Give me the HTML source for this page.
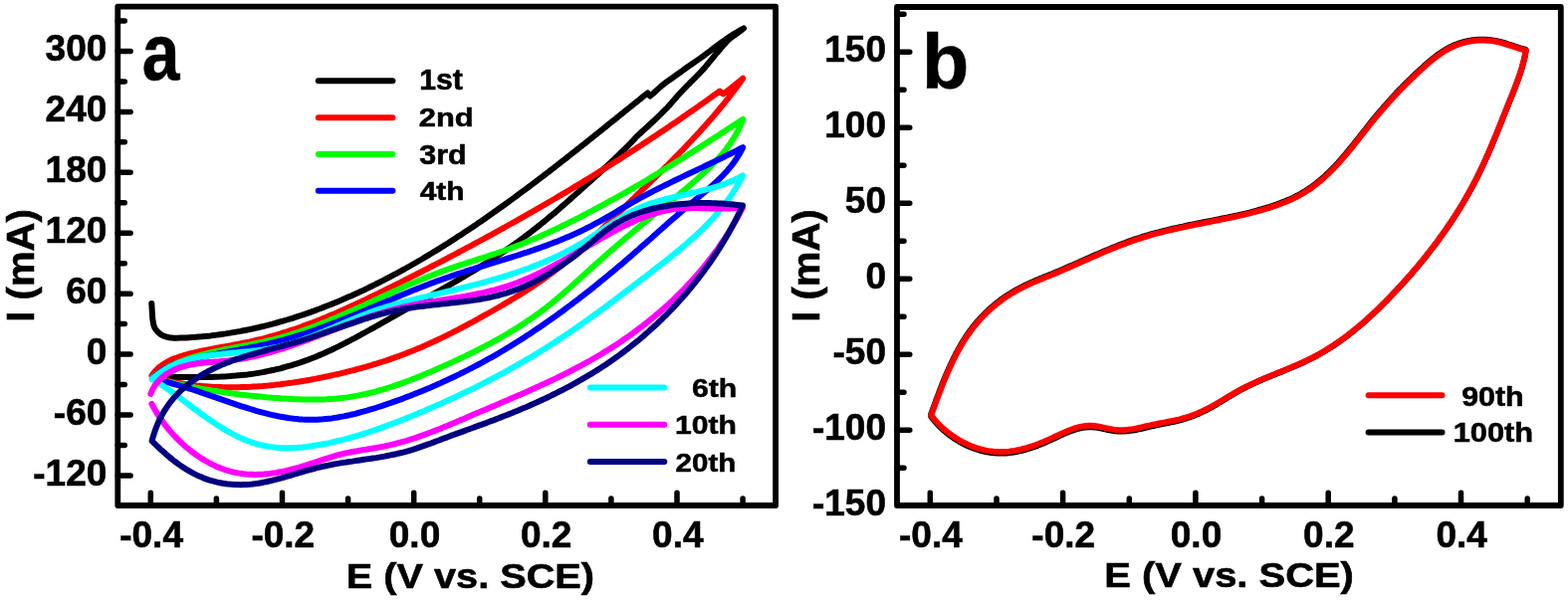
<!DOCTYPE html><html><head><meta charset="utf-8"><title>CV curves</title>
<style>html,body{margin:0;padding:0;background:#fff;}svg{display:block;}</style></head><body>
<svg width="1575" height="603" viewBox="0 0 1575 603">
<rect width="1575" height="603" fill="#fff"/>
<g fill="none" stroke-width="6.0" stroke-linecap="round" stroke-linejoin="round">
<path d="M152.3 305.0L152.3 305.6L152.4 306.5L152.5 307.5L152.5 308.7L152.6 310.0L152.7 311.4L152.8 313.1L152.9 314.8L153.0 316.5L153.1 318.0L153.2 319.4L153.3 320.6L153.5 321.8L153.6 322.9L153.8 324.0L154.0 325.0L154.2 326.0L154.4 326.9L154.7 327.7L155.0 328.5L155.3 329.2L155.7 329.9L156.1 330.6L156.6 331.2L157.0 331.8L157.5 332.4L157.9 332.9L158.4 333.5L159.0 334.0L159.5 334.5L160.1 335.0L160.6 335.4L161.2 335.9L161.9 336.3L162.5 336.7L163.2 337.1L163.8 337.4L164.5 337.7L165.3 337.9L166.0 338.2L166.8 338.4L167.5 338.7L168.3 338.9L169.1 339.0L170.0 339.2L171.0 339.4L172.2 339.5L173.3 339.6L174.3 339.7L175.0 339.8L178.1 339.7L181.2 339.6L184.2 339.5L187.3 339.4L190.4 339.2L193.4 339.0L196.5 338.8L199.5 338.5L202.5 338.3L205.6 338.0L208.6 337.7L211.6 337.4L214.6 337.0L217.6 336.6L220.6 336.2L223.6 335.8L226.6 335.4L229.6 334.9L232.6 334.4L235.5 333.9L238.5 333.4L241.5 332.9L244.4 332.3L247.4 331.7L250.3 331.1L253.3 330.5L256.2 329.8L259.1 329.2L262.0 328.5L264.9 327.8L267.8 327.1L270.8 326.3L273.6 325.6L276.5 324.8L279.4 324.0L282.3 323.2L285.2 322.4L288.0 321.5L290.9 320.6L293.8 319.8L296.6 318.9L299.5 317.9L302.3 317.0L305.1 316.1L308.0 315.1L310.8 314.1L313.6 313.1L316.4 312.1L319.2 311.0L322.0 310.0L324.8 308.9L327.6 307.8L330.4 306.7L333.2 305.6L335.9 304.5L338.7 303.4L341.5 302.2L344.2 301.0L347.0 299.8L349.7 298.6L352.5 297.4L355.2 296.2L357.9 295.0L360.7 293.7L363.4 292.4L366.1 291.2L368.8 289.9L371.5 288.5L374.2 287.2L376.9 285.9L379.6 284.5L382.3 283.2L385.0 281.8L387.6 280.4L390.3 279.0L393.0 277.6L395.6 276.2L398.3 274.8L400.9 273.4L403.6 271.9L406.2 270.5L408.8 269.0L411.5 267.5L414.1 266.0L416.7 264.5L419.3 263.0L421.9 261.5L424.5 260.0L427.1 258.4L429.7 256.9L432.3 255.3L434.9 253.7L437.5 252.2L440.0 250.6L442.6 249.0L445.2 247.4L447.7 245.8L450.3 244.2L452.8 242.5L455.4 240.9L457.9 239.3L460.4 237.6L463.0 235.9L465.5 234.3L468.0 232.6L470.5 230.9L473.1 229.2L475.6 227.6L478.1 225.9L480.6 224.1L483.1 222.4L485.6 220.7L488.1 219.0L490.5 217.3L493.0 215.5L495.5 213.8L498.0 212.0L500.4 210.3L502.9 208.5L505.4 206.7L507.8 205.0L510.3 203.2L512.7 201.4L515.2 199.6L517.6 197.8L520.1 196.0L522.5 194.2L525.0 192.4L527.4 190.6L529.8 188.8L532.3 187.0L534.7 185.1L537.1 183.3L539.5 181.5L541.9 179.6L544.3 177.8L546.7 176.0L549.2 174.1L551.6 172.3L554.0 170.4L556.4 168.6L558.7 166.7L561.1 164.8L563.5 163.0L565.9 161.1L568.3 159.3L570.7 157.4L573.1 155.5L575.4 153.6L577.8 151.8L580.2 149.9L582.6 148.0L584.9 146.1L587.3 144.3L589.7 142.4L592.0 140.5L594.4 138.6L596.7 136.7L599.1 134.8L601.4 133.0L603.8 131.1L606.1 129.2L608.5 127.3L610.8 125.4L613.2 123.5L615.5 121.7L617.9 119.8L620.2 117.9L622.5 116.0L624.9 114.1L627.2 112.2L629.5 110.4L631.9 108.5L634.2 106.6L636.5 104.7L638.9 102.9L641.2 101.0L643.5 99.1L645.9 97.2L648.2 95.4L650.5 93.5L653.0 96.5L656.0 94.0L657.4 92.7L659.3 91.0L661.6 88.9L664.1 86.7L666.6 84.7L669.2 82.7L671.9 80.7L674.8 78.7L677.5 76.8L680.0 75.0L682.1 73.5L683.9 72.2L685.7 70.9L687.6 69.5L690.0 67.8L692.9 65.8L696.2 63.5L699.6 61.1L703.2 58.6L706.6 56.2L710.0 53.7L713.5 51.1L716.9 48.4L720.2 45.9L723.2 43.7L725.9 41.8L728.3 40.1L730.5 38.5L732.7 37.0L735.0 35.5L737.6 33.9L740.4 32.3L743.1 30.7L745.4 29.4L747.0 28.5L746.1 29.2L745.0 30.1L743.6 31.2L742.0 32.3L740.5 33.5L738.9 34.6L737.3 35.8L735.5 37.0L733.8 38.3L732.0 39.8L730.3 41.5L728.5 43.4L726.7 45.4L724.9 47.5L723.2 49.5L721.5 51.5L719.8 53.5L718.2 55.5L716.6 57.5L714.9 59.5L713.2 61.5L711.6 63.5L709.9 65.5L708.3 67.5L706.6 69.4L704.9 71.2L703.3 73.0L701.6 74.7L700.0 76.4L698.3 78.1L696.7 79.7L695.1 81.3L693.4 82.9L691.8 84.6L690.0 86.4L688.1 88.4L686.1 90.4L684.1 92.6L682.0 94.8L680.0 97.0L678.1 99.2L676.2 101.4L674.3 103.6L672.2 106.0L669.9 108.5L667.2 111.2L664.3 114.1L661.2 117.1L658.1 120.1L655.0 123.0L651.8 126.0L648.3 129.2L644.9 132.3L642.0 134.9L640.0 136.8L637.9 139.0L635.9 141.2L633.8 143.4L631.7 145.5L629.6 147.7L627.4 149.8L625.3 151.9L623.1 154.0L621.0 156.1L618.8 158.2L616.6 160.3L614.4 162.4L612.2 164.4L610.0 166.5L607.8 168.5L605.6 170.6L603.4 172.6L601.1 174.7L598.9 176.7L596.7 178.7L594.4 180.8L592.2 182.8L589.9 184.8L587.7 186.8L585.4 188.9L583.2 190.9L580.9 192.9L578.7 194.9L576.4 196.9L574.1 199.0L571.9 201.0L569.6 203.0L567.3 205.0L565.0 207.0L562.8 208.9L560.5 210.9L558.2 212.9L555.9 214.9L553.5 216.8L551.2 218.8L548.9 220.7L546.6 222.6L544.2 224.5L541.9 226.4L539.5 228.3L537.1 230.2L534.7 232.0L532.4 233.9L530.0 235.7L527.5 237.5L525.1 239.3L522.7 241.1L520.3 242.9L517.8 244.6L515.3 246.4L512.9 248.1L510.4 249.8L507.9 251.5L505.4 253.2L502.9 254.9L500.4 256.5L497.9 258.2L495.4 259.8L492.8 261.5L490.3 263.1L487.7 264.7L485.2 266.3L482.6 267.9L480.1 269.5L477.5 271.1L474.9 272.6L472.3 274.2L469.7 275.7L467.1 277.3L464.5 278.8L461.9 280.4L459.3 281.9L456.7 283.4L454.1 284.9L451.5 286.4L448.9 287.9L446.2 289.4L443.6 290.9L441.0 292.4L438.3 293.9L435.7 295.4L433.1 296.9L430.4 298.4L427.8 299.9L425.1 301.3L422.5 302.8L419.8 304.3L417.2 305.8L414.5 307.3L411.9 308.7L409.2 310.2L406.6 311.7L404.0 313.2L401.3 314.7L398.7 316.2L396.0 317.7L393.4 319.2L390.7 320.6L388.1 322.1L385.4 323.6L382.8 325.1L380.2 326.6L377.5 328.1L374.9 329.6L372.2 331.0L369.6 332.5L366.9 334.0L364.3 335.4L361.6 336.9L358.9 338.3L356.3 339.8L353.6 341.2L350.9 342.6L348.2 344.0L345.6 345.4L342.9 346.7L340.2 348.1L337.5 349.4L334.8 350.7L332.1 352.0L329.3 353.3L326.6 354.5L323.8 355.8L321.1 356.9L318.3 358.1L315.5 359.2L312.7 360.3L309.9 361.4L307.1 362.4L304.3 363.4L301.5 364.4L298.6 365.3L295.8 366.2L292.9 367.1L290.0 367.9L287.2 368.7L284.3 369.5L281.4 370.3L278.4 371.0L275.5 371.7L272.6 372.3L269.7 372.9L266.7 373.5L263.7 374.1L260.8 374.6L257.8 375.1L254.8 375.6L251.8 376.0L248.8 376.4L245.8 376.7L242.8 377.0L239.8 377.3L236.8 377.6L233.7 377.8L230.7 378.1L227.6 378.3L224.6 378.4L221.6 378.6L218.5 378.7L215.4 378.8L212.4 378.9L209.3 378.9L206.3 379.0L203.2 379.0L200.2 379.1L197.1 379.1L194.1 379.1L191.0 379.1L188.0 379.1L184.9 379.1L181.9 379.1L178.9 379.0L175.9 379.0L172.9 379.0L169.8 379.0L166.8 378.9L163.9 378.9L160.9 378.9L157.9 378.9" stroke="#000000"/>
<path d="M152.5 377.5L154.3 375.0L156.3 372.6L158.4 370.5L160.6 368.6L163.0 366.8L165.4 365.2L167.9 363.7L170.6 362.3L173.3 361.1L176.0 360.0L178.8 359.0L181.7 358.0L184.6 357.1L187.5 356.3L190.4 355.5L193.4 354.8L196.3 354.1L199.3 353.4L202.3 352.8L205.3 352.2L208.3 351.6L211.3 351.0L214.3 350.4L217.3 349.8L220.3 349.3L223.3 348.7L226.3 348.2L229.3 347.6L232.3 347.1L235.3 346.5L238.3 346.0L241.3 345.4L244.3 344.8L247.3 344.2L250.2 343.6L253.2 342.9L256.2 342.2L259.1 341.5L262.1 340.8L265.0 340.1L267.9 339.3L270.8 338.5L273.7 337.7L276.6 336.9L279.5 336.0L282.4 335.1L285.3 334.2L288.2 333.3L291.0 332.4L293.9 331.4L296.8 330.5L299.6 329.5L302.5 328.5L305.3 327.4L308.1 326.4L310.9 325.3L313.8 324.3L316.6 323.2L319.4 322.1L322.2 321.0L325.0 319.8L327.8 318.7L330.5 317.5L333.3 316.3L336.1 315.2L338.9 314.0L341.6 312.8L344.4 311.5L347.2 310.3L349.9 309.1L352.7 307.8L355.4 306.6L358.2 305.3L360.9 304.0L363.6 302.7L366.4 301.4L369.1 300.1L371.8 298.8L374.6 297.5L377.3 296.2L380.0 294.9L382.7 293.5L385.4 292.2L388.2 290.8L390.9 289.5L393.6 288.1L396.3 286.8L399.0 285.4L401.7 284.1L404.4 282.7L407.1 281.3L409.8 280.0L412.5 278.6L415.2 277.2L417.9 275.8L420.6 274.5L423.3 273.1L426.0 271.7L428.7 270.3L431.4 268.9L434.0 267.5L436.7 266.1L439.4 264.8L442.1 263.4L444.8 262.0L447.5 260.6L450.1 259.1L452.8 257.7L455.5 256.3L458.2 254.9L460.8 253.5L463.5 252.1L466.2 250.6L468.8 249.2L471.5 247.8L474.2 246.4L476.8 244.9L479.5 243.5L482.2 242.0L484.8 240.6L487.5 239.2L490.1 237.7L492.8 236.3L495.4 234.8L498.1 233.3L500.7 231.9L503.4 230.4L506.0 229.0L508.6 227.5L511.3 226.0L513.9 224.5L516.6 223.1L519.2 221.6L521.8 220.1L524.5 218.6L527.1 217.1L529.7 215.6L532.3 214.1L535.0 212.6L537.6 211.1L540.2 209.6L542.8 208.1L545.4 206.6L548.0 205.1L550.7 203.5L553.3 202.0L555.9 200.5L558.5 199.0L561.1 197.4L563.7 195.9L566.3 194.3L568.9 192.8L571.5 191.3L574.1 189.7L576.7 188.1L579.2 186.6L581.8 185.0L584.4 183.5L587.0 181.9L589.6 180.3L592.2 178.7L594.7 177.2L597.3 175.6L599.9 174.0L602.4 172.4L605.0 170.8L607.6 169.2L610.1 167.6L612.7 166.0L615.3 164.4L617.8 162.8L620.4 161.2L622.9 159.6L625.5 157.9L628.0 156.3L630.6 154.7L633.1 153.0L635.6 151.4L638.2 149.8L640.7 148.1L643.3 146.5L645.8 144.8L648.3 143.1L650.8 141.5L653.4 139.8L655.9 138.1L658.4 136.5L660.9 134.8L663.4 133.1L665.9 131.4L668.5 129.7L671.0 128.0L673.5 126.3L676.0 124.6L678.5 122.9L681.0 121.2L683.5 119.5L685.9 117.8L688.4 116.1L690.9 114.3L693.4 112.6L695.9 110.9L698.4 109.1L700.8 107.4L703.3 105.6L705.8 103.9L708.3 102.1L710.7 100.4L713.2 98.6L715.6 96.8L718.1 95.1L720.5 93.3L723.0 91.5L726.5 94.5L736.0 87.0L746.2 78.8L744.4 81.3L742.7 83.7L740.9 86.2L739.1 88.6L737.3 91.1L735.5 93.5L733.6 95.9L731.8 98.3L729.9 100.6L728.0 103.0L726.1 105.3L724.2 107.7L722.3 110.0L720.4 112.3L718.4 114.6L716.5 116.9L714.5 119.2L712.5 121.5L710.5 123.7L708.5 126.0L706.5 128.2L704.5 130.5L702.5 132.7L700.4 134.9L698.4 137.1L696.3 139.3L694.3 141.5L692.2 143.7L690.1 145.9L688.1 148.1L686.0 150.3L683.9 152.4L681.8 154.6L679.7 156.7L677.5 158.9L675.4 161.0L673.3 163.2L671.2 165.3L669.0 167.4L666.9 169.5L664.7 171.7L662.6 173.8L660.5 175.9L658.3 178.0L656.1 180.1L654.0 182.2L651.8 184.3L649.7 186.4L647.5 188.6L645.3 190.7L643.2 192.8L641.0 194.9L638.8 197.0L636.7 199.1L634.5 201.2L632.3 203.3L630.2 205.4L628.0 207.5L625.9 209.6L623.7 211.7L621.5 213.8L619.4 215.9L617.2 218.1L615.1 220.2L612.9 222.3L610.8 224.4L608.6 226.5L606.4 228.6L604.3 230.7L602.1 232.8L599.9 234.9L597.7 237.0L595.5 239.0L593.3 241.1L591.1 243.1L588.9 245.2L586.7 247.2L584.5 249.2L582.3 251.2L580.0 253.2L577.8 255.2L575.5 257.2L573.2 259.1L570.9 261.1L568.6 263.0L566.3 264.9L564.0 266.8L561.6 268.7L559.3 270.5L556.9 272.3L554.5 274.1L552.1 275.9L549.7 277.7L547.2 279.5L544.8 281.2L542.3 282.9L539.9 284.6L537.4 286.3L534.9 288.0L532.4 289.6L529.8 291.2L527.3 292.9L524.8 294.5L522.2 296.1L519.7 297.7L517.1 299.2L514.5 300.8L511.9 302.4L509.3 303.9L506.7 305.4L504.1 307.0L501.5 308.5L498.9 310.0L496.3 311.5L493.7 313.0L491.0 314.5L488.4 316.0L485.8 317.4L483.1 318.9L480.5 320.4L477.8 321.8L475.2 323.3L472.5 324.7L469.8 326.2L467.2 327.6L464.5 329.0L461.8 330.4L459.2 331.8L456.5 333.2L453.8 334.6L451.1 335.9L448.4 337.3L445.7 338.6L443.0 339.9L440.2 341.2L437.5 342.5L434.8 343.8L432.0 345.0L429.3 346.3L426.5 347.5L423.8 348.7L421.0 349.9L418.2 351.0L415.5 352.2L412.7 353.3L409.9 354.4L407.1 355.5L404.3 356.5L401.5 357.6L398.6 358.6L395.8 359.6L393.0 360.6L390.1 361.6L387.3 362.6L384.4 363.5L381.6 364.4L378.7 365.3L375.8 366.2L373.0 367.1L370.1 367.9L367.2 368.8L364.3 369.6L361.4 370.4L358.5 371.2L355.6 372.0L352.7 372.7L349.8 373.4L346.8 374.2L343.9 374.9L341.0 375.6L338.1 376.2L335.1 376.9L332.2 377.5L329.2 378.2L326.3 378.8L323.3 379.4L320.4 380.0L317.4 380.6L314.4 381.1L311.5 381.7L308.5 382.2L305.5 382.7L302.5 383.2L299.6 383.7L296.6 384.1L293.6 384.6L290.6 385.0L287.6 385.4L284.6 385.8L281.6 386.2L278.6 386.5L275.6 386.9L272.6 387.2L269.6 387.5L266.6 387.7L263.6 388.0L260.6 388.2L257.6 388.4L254.6 388.6L251.6 388.8L248.6 388.9L245.6 389.0L242.6 389.1L239.6 389.2L236.6 389.2L233.6 389.3L230.6 389.3L227.5 389.2L224.5 389.2L221.5 389.1L218.5 389.0L215.5 388.9L212.5 388.7L209.5 388.5L206.5 388.3L203.6 388.1L200.6 387.8L197.6 387.5L194.6 387.1L191.6 386.8L188.6 386.4L185.6 386.0L182.7 385.5L179.7 385.0L176.7 384.5L173.7 384.0L170.8 383.4L167.8 382.8L164.9 382.1L161.9 381.5L158.9 380.7L156.0 380.0" stroke="#ff0000"/>
<path d="M153.0 379.5L155.3 377.6L157.7 375.8L160.1 374.2L162.6 372.6L165.1 371.1L167.7 369.6L170.3 368.3L172.9 367.0L175.6 365.8L178.3 364.6L181.0 363.5L183.8 362.5L186.6 361.5L189.4 360.5L192.2 359.6L195.0 358.7L197.9 357.9L200.8 357.1L203.7 356.3L206.6 355.6L209.5 354.9L212.4 354.2L215.4 353.5L218.4 352.9L221.3 352.3L224.3 351.6L227.3 351.0L230.3 350.5L233.3 349.9L236.3 349.3L239.3 348.7L242.3 348.1L245.3 347.5L248.3 347.0L251.3 346.4L254.3 345.8L257.3 345.2L260.3 344.5L263.3 343.9L266.3 343.2L269.2 342.5L272.2 341.8L275.2 341.1L278.1 340.3L281.0 339.6L283.9 338.7L286.9 337.9L289.8 337.0L292.6 336.1L295.5 335.2L298.4 334.3L301.3 333.3L304.1 332.3L307.0 331.3L309.8 330.3L312.6 329.3L315.4 328.2L318.3 327.1L321.1 326.0L323.9 324.9L326.7 323.8L329.5 322.7L332.2 321.5L335.0 320.3L337.8 319.2L340.6 318.0L343.3 316.8L346.1 315.6L348.9 314.3L351.6 313.1L354.4 311.9L357.1 310.6L359.9 309.4L362.6 308.1L365.4 306.9L368.1 305.6L370.8 304.4L373.6 303.1L376.3 301.8L379.1 300.6L381.8 299.3L384.6 298.0L387.3 296.8L390.0 295.5L392.8 294.3L395.5 293.0L398.3 291.8L401.0 290.5L403.8 289.3L406.6 288.1L409.3 286.8L412.1 285.6L414.8 284.4L417.6 283.2L420.4 282.1L423.2 280.9L426.0 279.7L428.8 278.6L431.6 277.5L434.4 276.4L437.2 275.3L440.0 274.2L442.8 273.2L445.7 272.1L448.5 271.1L451.3 270.1L454.2 269.1L457.1 268.1L459.9 267.2L462.8 266.2L465.7 265.3L468.5 264.3L471.4 263.4L474.3 262.5L477.2 261.6L480.1 260.6L482.9 259.7L485.8 258.8L488.7 257.8L491.6 256.9L494.4 255.9L497.3 255.0L500.2 254.0L503.0 253.0L505.9 252.0L508.7 251.0L511.6 250.0L514.4 248.9L517.2 247.9L520.0 246.8L522.8 245.7L525.6 244.6L528.4 243.4L531.2 242.3L534.0 241.1L536.8 239.9L539.6 238.7L542.3 237.5L545.1 236.3L547.8 235.0L550.6 233.8L553.3 232.5L556.1 231.2L558.8 230.0L561.5 228.7L564.2 227.3L567.0 226.0L569.7 224.7L572.4 223.3L575.1 222.0L577.8 220.6L580.5 219.3L583.2 217.9L585.8 216.5L588.5 215.1L591.2 213.7L593.9 212.3L596.5 210.9L599.2 209.4L601.9 208.0L604.5 206.6L607.2 205.1L609.8 203.7L612.5 202.2L615.1 200.8L617.8 199.3L620.4 197.8L623.0 196.4L625.7 194.9L628.3 193.4L630.9 191.9L633.5 190.4L636.1 188.9L638.7 187.3L641.4 185.8L644.0 184.3L646.6 182.8L649.2 181.2L651.7 179.7L654.3 178.1L656.9 176.6L659.5 175.0L662.1 173.5L664.7 171.9L667.2 170.3L669.8 168.7L672.4 167.2L675.0 165.6L677.5 164.0L680.1 162.4L682.7 160.8L685.2 159.2L687.8 157.6L690.3 156.0L692.9 154.4L695.4 152.7L698.0 151.1L700.5 149.5L703.1 147.9L705.6 146.2L708.2 144.6L710.7 143.0L713.2 141.3L715.8 139.7L718.3 138.1L720.9 136.4L723.4 134.8L725.9 133.1L728.5 131.5L731.0 129.8L733.5 128.2L736.1 126.5L738.6 124.9L741.1 123.2L743.7 121.6L746.2 119.9L745.1 122.8L743.9 125.7L742.6 128.5L741.2 131.2L739.8 133.9L738.3 136.5L736.8 139.1L735.1 141.6L733.5 144.1L731.8 146.6L730.0 149.0L728.2 151.3L726.3 153.6L724.4 155.9L722.4 158.2L720.4 160.4L718.4 162.5L716.3 164.7L714.2 166.8L712.1 168.9L709.9 171.0L707.8 173.1L705.6 175.1L703.3 177.1L701.1 179.1L698.9 181.1L696.6 183.1L694.3 185.1L692.1 187.0L689.8 189.0L687.5 190.9L685.2 192.8L682.9 194.8L680.6 196.7L678.2 198.6L675.9 200.5L673.6 202.4L671.2 204.3L668.9 206.2L666.5 208.1L664.2 210.0L661.8 211.9L659.5 213.8L657.1 215.6L654.8 217.5L652.5 219.4L650.1 221.3L647.8 223.2L645.4 225.1L643.1 227.0L640.8 228.9L638.5 230.9L636.2 232.8L633.9 234.7L631.6 236.7L629.3 238.6L627.0 240.5L624.7 242.5L622.4 244.5L620.1 246.4L617.9 248.4L615.6 250.4L613.3 252.3L611.1 254.3L608.8 256.3L606.6 258.3L604.3 260.3L602.1 262.3L599.8 264.3L597.6 266.3L595.3 268.3L593.1 270.3L590.8 272.4L588.6 274.4L586.4 276.4L584.1 278.4L581.9 280.5L579.7 282.5L577.4 284.5L575.2 286.5L572.9 288.6L570.7 290.6L568.4 292.6L566.2 294.5L563.9 296.5L561.6 298.5L559.3 300.4L557.0 302.3L554.7 304.3L552.3 306.1L550.0 308.0L547.6 309.9L545.2 311.7L542.8 313.5L540.4 315.3L538.0 317.0L535.5 318.7L533.1 320.5L530.6 322.1L528.1 323.8L525.6 325.5L523.1 327.1L520.6 328.7L518.1 330.3L515.5 331.9L512.9 333.4L510.4 335.0L507.8 336.5L505.2 338.0L502.6 339.5L500.0 341.0L497.3 342.4L494.7 343.9L492.1 345.3L489.4 346.7L486.7 348.1L484.1 349.5L481.4 350.9L478.7 352.3L476.0 353.6L473.3 355.0L470.6 356.3L467.8 357.6L465.1 358.9L462.4 360.2L459.6 361.5L456.9 362.8L454.1 364.1L451.4 365.3L448.6 366.6L445.9 367.8L443.1 369.1L440.3 370.3L437.5 371.5L434.7 372.8L431.9 374.0L429.1 375.1L426.3 376.3L423.5 377.5L420.7 378.6L417.9 379.8L415.1 380.9L412.3 382.0L409.4 383.0L406.6 384.1L403.8 385.1L400.9 386.1L398.1 387.1L395.2 388.1L392.3 389.0L389.5 389.9L386.6 390.8L383.7 391.7L380.8 392.5L377.9 393.3L375.0 394.1L372.1 394.8L369.2 395.5L366.3 396.2L363.4 396.8L360.4 397.4L357.5 397.9L354.6 398.4L351.6 398.9L348.7 399.4L345.7 399.8L342.7 400.1L339.8 400.4L336.8 400.7L333.8 400.9L330.8 401.1L327.8 401.3L324.8 401.4L321.8 401.5L318.8 401.5L315.8 401.6L312.8 401.6L309.8 401.6L306.8 401.5L303.8 401.4L300.7 401.3L297.7 401.2L294.7 401.1L291.7 400.9L288.7 400.8L285.7 400.6L282.7 400.4L279.6 400.1L276.6 399.9L273.6 399.7L270.6 399.4L267.6 399.2L264.6 398.9L261.6 398.6L258.6 398.3L255.6 398.0L252.6 397.7L249.6 397.4L246.6 397.1L243.7 396.7L240.7 396.4L237.7 396.0L234.7 395.6L231.7 395.2L228.8 394.8L225.8 394.4L222.8 393.9L219.8 393.5L216.9 393.0L213.9 392.6L210.9 392.1L208.0 391.6L205.0 391.1L202.1 390.6L199.1 390.0L196.1 389.5L193.2 388.9L190.2 388.4L187.3 387.8L184.4 387.2L181.4 386.6L178.5 386.0L175.5 385.3L172.6 384.7L169.7 384.0L166.7 383.3L163.8 382.6L160.9 381.9L157.9 381.2L155.0 380.5" stroke="#00ff00"/>
<path d="M153.0 380.5L155.1 378.3L157.4 376.4L159.7 374.5L162.1 372.9L164.6 371.3L167.2 369.9L169.8 368.7L172.5 367.5L175.2 366.4L177.9 365.4L180.7 364.5L183.6 363.6L186.4 362.8L189.3 362.0L192.2 361.3L195.1 360.5L198.0 359.8L200.9 359.2L203.9 358.5L206.8 357.9L209.8 357.3L212.7 356.6L215.7 356.1L218.7 355.5L221.6 354.9L224.6 354.3L227.6 353.8L230.6 353.2L233.6 352.7L236.5 352.1L239.5 351.6L242.5 351.0L245.5 350.5L248.5 349.9L251.5 349.3L254.5 348.7L257.4 348.1L260.4 347.5L263.4 346.9L266.3 346.3L269.3 345.6L272.2 344.9L275.2 344.2L278.1 343.5L281.0 342.7L283.9 341.9L286.8 341.1L289.7 340.3L292.6 339.5L295.5 338.6L298.4 337.7L301.3 336.8L304.1 335.9L307.0 335.0L309.8 334.0L312.7 333.1L315.5 332.1L318.3 331.1L321.2 330.1L324.0 329.0L326.8 328.0L329.6 326.9L332.4 325.9L335.2 324.8L338.0 323.7L340.8 322.6L343.6 321.5L346.4 320.4L349.2 319.3L352.0 318.1L354.8 317.0L357.5 315.8L360.3 314.7L363.1 313.5L365.9 312.4L368.6 311.2L371.4 310.0L374.2 308.9L377.0 307.7L379.7 306.5L382.5 305.4L385.3 304.2L388.0 303.0L390.8 301.9L393.6 300.7L396.4 299.5L399.1 298.4L401.9 297.2L404.7 296.0L407.5 294.9L410.3 293.8L413.1 292.6L415.8 291.5L418.6 290.4L421.4 289.3L424.2 288.2L427.0 287.1L429.8 286.0L432.7 284.9L435.5 283.9L438.3 282.8L441.1 281.8L443.9 280.8L446.8 279.8L449.6 278.8L452.5 277.8L455.3 276.8L458.2 275.9L461.0 274.9L463.9 274.0L466.8 273.1L469.6 272.1L472.5 271.2L475.4 270.3L478.3 269.4L481.1 268.5L484.0 267.7L486.9 266.8L489.8 265.9L492.7 265.0L495.5 264.1L498.4 263.2L501.3 262.4L504.2 261.5L507.1 260.6L509.9 259.7L512.8 258.8L515.7 257.9L518.5 257.0L521.4 256.1L524.3 255.1L527.1 254.2L530.0 253.3L532.8 252.3L535.7 251.4L538.5 250.4L541.4 249.4L544.2 248.4L547.0 247.4L549.8 246.4L552.6 245.3L555.4 244.2L558.2 243.2L561.0 242.1L563.8 240.9L566.6 239.8L569.3 238.6L572.1 237.5L574.8 236.2L577.6 235.0L580.3 233.8L583.0 232.5L585.7 231.2L588.4 229.8L591.1 228.5L593.8 227.1L596.4 225.7L599.1 224.2L601.7 222.8L604.4 221.3L607.0 219.8L609.6 218.3L612.3 216.8L614.9 215.3L617.5 213.8L620.1 212.2L622.7 210.7L625.3 209.2L628.0 207.7L630.6 206.1L633.2 204.6L635.8 203.1L638.5 201.7L641.1 200.2L643.7 198.7L646.4 197.3L649.0 195.9L651.7 194.5L654.4 193.1L657.0 191.7L659.7 190.3L662.4 189.0L665.1 187.6L667.8 186.3L670.5 185.0L673.2 183.6L675.9 182.3L678.6 181.0L681.3 179.7L684.0 178.4L686.7 177.1L689.4 175.8L692.1 174.5L694.8 173.2L697.5 172.0L700.2 170.7L702.9 169.4L705.7 168.1L708.4 166.8L711.1 165.5L713.8 164.2L716.5 162.9L719.2 161.6L721.9 160.3L724.6 159.0L727.3 157.7L730.0 156.3L732.7 155.0L735.4 153.6L738.1 152.3L740.8 150.9L743.5 149.5L746.2 148.1L744.8 150.9L743.4 153.6L741.8 156.2L740.2 158.7L738.5 161.2L736.8 163.7L735.0 166.1L733.1 168.4L731.2 170.7L729.2 172.9L727.2 175.1L725.1 177.3L723.0 179.4L720.9 181.4L718.7 183.5L716.5 185.5L714.3 187.5L712.0 189.5L709.7 191.5L707.4 193.4L705.1 195.3L702.8 197.3L700.5 199.2L698.2 201.1L695.8 203.0L693.5 205.0L691.2 206.9L688.9 208.8L686.6 210.8L684.3 212.8L682.1 214.7L679.8 216.7L677.5 218.7L675.3 220.6L673.0 222.6L670.7 224.6L668.5 226.6L666.2 228.6L664.0 230.6L661.7 232.6L659.5 234.6L657.2 236.6L655.0 238.6L652.8 240.6L650.5 242.6L648.3 244.6L646.0 246.6L643.7 248.6L641.5 250.6L639.2 252.6L637.0 254.5L634.7 256.5L632.4 258.5L630.1 260.5L627.8 262.4L625.5 264.4L623.2 266.4L620.9 268.3L618.6 270.2L616.3 272.2L614.0 274.1L611.7 276.1L609.3 278.0L607.0 279.9L604.7 281.8L602.3 283.7L600.0 285.6L597.6 287.5L595.3 289.4L592.9 291.3L590.5 293.2L588.1 295.0L585.8 296.9L583.4 298.7L581.0 300.6L578.6 302.4L576.2 304.2L573.8 306.1L571.3 307.9L568.9 309.7L566.5 311.5L564.1 313.3L561.6 315.0L559.2 316.8L556.7 318.6L554.3 320.3L551.8 322.1L549.3 323.8L546.9 325.5L544.4 327.2L541.9 328.9L539.4 330.6L536.9 332.3L534.4 334.0L531.9 335.7L529.3 337.3L526.8 339.0L524.3 340.6L521.7 342.2L519.2 343.8L516.6 345.4L514.1 347.0L511.5 348.6L508.9 350.1L506.3 351.7L503.8 353.2L501.2 354.8L498.6 356.3L496.0 357.8L493.3 359.3L490.7 360.7L488.1 362.2L485.5 363.6L482.8 365.1L480.2 366.5L477.5 367.9L474.8 369.3L472.2 370.7L469.5 372.1L466.8 373.4L464.1 374.8L461.4 376.1L458.7 377.4L456.0 378.7L453.3 380.0L450.5 381.3L447.8 382.6L445.1 383.8L442.3 385.1L439.6 386.3L436.8 387.5L434.0 388.7L431.3 389.9L428.5 391.1L425.7 392.2L422.9 393.4L420.1 394.5L417.3 395.6L414.5 396.8L411.7 397.9L408.8 398.9L406.0 400.0L403.2 401.1L400.3 402.1L397.5 403.1L394.6 404.1L391.7 405.2L388.9 406.1L386.0 407.1L383.1 408.1L380.2 409.0L377.3 410.0L374.4 410.9L371.5 411.7L368.6 412.6L365.7 413.4L362.7 414.2L359.8 415.0L356.9 415.8L353.9 416.5L351.0 417.2L348.1 417.8L345.1 418.4L342.2 418.9L339.2 419.5L336.3 419.9L333.3 420.4L330.4 420.7L327.5 421.0L324.5 421.3L321.6 421.5L318.6 421.7L315.7 421.8L312.7 421.8L309.8 421.8L306.8 421.7L303.9 421.6L301.0 421.4L298.0 421.1L295.1 420.8L292.2 420.4L289.2 420.0L286.3 419.5L283.4 419.0L280.5 418.5L277.5 417.9L274.6 417.3L271.7 416.6L268.8 415.9L265.9 415.2L262.9 414.4L260.0 413.6L257.1 412.8L254.2 411.9L251.3 411.0L248.4 410.1L245.5 409.2L242.6 408.3L239.7 407.3L236.8 406.4L233.9 405.4L231.0 404.4L228.1 403.4L225.2 402.4L222.3 401.4L219.4 400.4L216.5 399.4L213.6 398.4L210.7 397.4L207.8 396.4L204.9 395.4L202.0 394.4L199.1 393.4L196.2 392.4L193.3 391.5L190.4 390.6L187.6 389.7L184.7 388.8L181.8 387.9L178.9 387.1L176.0 386.3L173.1 385.5L170.3 384.7L167.4 384.0L164.5 383.3L161.6 382.7L158.8 382.1L155.9 381.5L153.0 381.0" stroke="#0000ff"/>
<path d="M152.8 381.0L155.1 379.0L157.5 377.0L159.9 375.2L162.4 373.5L164.9 371.9L167.4 370.4L170.0 369.0L172.7 367.7L175.3 366.5L178.0 365.4L180.7 364.3L183.5 363.3L186.3 362.4L189.1 361.6L192.0 360.8L194.8 360.1L197.7 359.5L200.7 358.9L203.6 358.3L206.6 357.8L209.5 357.4L212.5 357.0L215.5 356.6L218.6 356.2L221.6 355.9L224.7 355.5L227.7 355.2L230.8 354.9L233.8 354.6L236.9 354.4L240.0 354.1L243.0 353.8L246.1 353.5L249.2 353.2L252.2 352.9L255.3 352.5L258.4 352.2L261.4 351.8L264.4 351.4L267.5 350.9L270.5 350.4L273.5 349.8L276.4 349.2L279.4 348.6L282.3 347.9L285.3 347.1L288.2 346.4L291.1 345.5L294.0 344.7L296.9 343.8L299.7 342.8L302.6 341.8L305.4 340.8L308.2 339.8L311.1 338.8L313.9 337.7L316.7 336.6L319.5 335.5L322.3 334.3L325.1 333.2L327.9 332.0L330.6 330.8L333.4 329.7L336.2 328.5L339.0 327.3L341.8 326.1L344.5 324.9L347.3 323.8L350.1 322.6L352.9 321.4L355.7 320.3L358.5 319.1L361.3 318.0L364.1 316.9L366.9 315.8L369.7 314.7L372.5 313.7L375.4 312.7L378.2 311.7L381.1 310.7L384.0 309.8L386.8 308.9L389.7 308.0L392.6 307.2L395.5 306.3L398.4 305.5L401.3 304.7L404.2 303.9L407.1 303.1L410.1 302.4L413.0 301.6L415.9 300.9L418.9 300.2L421.8 299.5L424.7 298.8L427.7 298.1L430.6 297.4L433.6 296.7L436.5 296.0L439.5 295.3L442.4 294.6L445.4 293.9L448.3 293.2L451.3 292.5L454.2 291.8L457.1 291.1L460.1 290.4L463.0 289.7L466.0 288.9L468.9 288.2L471.8 287.4L474.7 286.7L477.7 285.9L480.6 285.2L483.5 284.4L486.4 283.6L489.3 282.8L492.2 282.0L495.1 281.1L498.0 280.3L500.9 279.4L503.8 278.6L506.7 277.7L509.5 276.8L512.4 275.9L515.2 274.9L518.1 274.0L520.9 273.0L523.8 272.0L526.6 271.0L529.4 270.0L532.2 269.0L535.0 267.9L537.8 266.8L540.6 265.7L543.4 264.6L546.1 263.5L548.9 262.3L551.6 261.1L554.4 259.9L557.1 258.6L559.8 257.4L562.5 256.1L565.2 254.7L567.9 253.4L570.5 252.0L573.2 250.6L575.8 249.2L578.5 247.7L581.1 246.2L583.7 244.7L586.3 243.1L588.8 241.5L591.4 239.9L594.0 238.3L596.5 236.6L599.0 234.9L601.6 233.2L604.1 231.5L606.6 229.8L609.1 228.1L611.7 226.4L614.2 224.7L616.7 223.1L619.3 221.4L621.8 219.8L624.4 218.3L627.0 216.7L629.6 215.2L632.2 213.8L634.9 212.4L637.6 211.1L640.3 209.8L643.0 208.6L645.7 207.5L648.5 206.4L651.3 205.4L654.1 204.4L657.0 203.5L659.8 202.6L662.7 201.8L665.6 201.0L668.5 200.2L671.4 199.5L674.4 198.7L677.3 198.0L680.3 197.4L683.2 196.7L686.2 196.0L689.1 195.4L692.1 194.7L695.0 194.0L698.0 193.3L700.9 192.6L703.9 191.9L706.8 191.2L709.7 190.4L712.6 189.6L715.6 188.8L718.4 188.0L721.3 187.0L724.2 186.1L727.0 185.1L729.8 184.0L732.6 182.9L735.4 181.7L738.1 180.5L740.9 179.2L743.5 177.8L746.2 176.3L744.8 179.1L743.3 181.8L741.8 184.5L740.2 187.1L738.7 189.8L737.0 192.3L735.4 194.9L733.7 197.4L731.9 199.9L730.2 202.3L728.4 204.7L726.5 207.1L724.6 209.4L722.7 211.7L720.8 214.0L718.9 216.3L716.9 218.5L714.9 220.7L712.8 222.9L710.8 225.1L708.7 227.2L706.6 229.3L704.4 231.4L702.3 233.5L700.1 235.5L697.9 237.5L695.7 239.5L693.4 241.5L691.2 243.5L688.9 245.5L686.6 247.4L684.4 249.4L682.0 251.3L679.7 253.2L677.4 255.1L675.0 257.0L672.7 258.9L670.3 260.8L668.0 262.6L665.6 264.5L663.2 266.4L660.8 268.2L658.4 270.1L656.1 271.9L653.7 273.8L651.3 275.6L648.9 277.5L646.5 279.3L644.1 281.2L641.7 283.0L639.3 284.9L636.9 286.7L634.5 288.6L632.1 290.4L629.7 292.2L627.2 294.1L624.8 295.9L622.4 297.7L620.0 299.5L617.6 301.4L615.2 303.2L612.7 305.0L610.3 306.8L607.9 308.6L605.4 310.4L603.0 312.2L600.6 314.0L598.1 315.8L595.7 317.5L593.2 319.3L590.7 321.1L588.3 322.8L585.8 324.6L583.4 326.3L580.9 328.0L578.4 329.8L575.9 331.5L573.4 333.2L570.9 334.9L568.4 336.6L565.9 338.2L563.4 339.9L560.9 341.6L558.4 343.2L555.9 344.9L553.3 346.5L550.8 348.1L548.3 349.7L545.7 351.3L543.2 352.9L540.6 354.5L538.0 356.1L535.5 357.6L532.9 359.2L530.3 360.7L527.7 362.2L525.1 363.7L522.5 365.2L519.9 366.7L517.3 368.2L514.7 369.7L512.1 371.1L509.5 372.6L506.8 374.0L504.2 375.5L501.5 376.9L498.9 378.3L496.2 379.7L493.6 381.1L490.9 382.5L488.2 383.9L485.6 385.2L482.9 386.6L480.2 387.9L477.5 389.3L474.8 390.6L472.1 391.9L469.4 393.2L466.7 394.5L464.0 395.8L461.3 397.1L458.6 398.4L455.8 399.7L453.1 400.9L450.3 402.2L447.6 403.4L444.9 404.7L442.1 405.9L439.3 407.1L436.6 408.4L433.8 409.6L431.0 410.8L428.3 412.0L425.5 413.2L422.7 414.3L419.9 415.5L417.1 416.7L414.3 417.8L411.5 419.0L408.7 420.1L405.9 421.3L403.1 422.4L400.3 423.5L397.4 424.6L394.6 425.7L391.8 426.7L388.9 427.8L386.1 428.8L383.2 429.9L380.4 430.9L377.5 431.9L374.6 432.9L371.8 433.8L368.9 434.8L366.0 435.7L363.1 436.6L360.2 437.5L357.3 438.3L354.4 439.2L351.5 440.0L348.6 440.8L345.7 441.6L342.7 442.3L339.8 443.0L336.8 443.7L333.9 444.4L330.9 445.1L328.0 445.7L325.0 446.3L322.0 446.8L319.1 447.3L316.1 447.8L313.1 448.3L310.1 448.7L307.1 449.1L304.1 449.5L301.1 449.7L298.1 450.0L295.1 450.1L292.1 450.3L289.1 450.3L286.2 450.3L283.2 450.2L280.2 450.0L277.3 449.8L274.3 449.4L271.4 449.0L268.5 448.5L265.6 448.0L262.7 447.3L259.9 446.6L257.0 445.8L254.2 444.9L251.4 444.0L248.6 443.0L245.9 441.9L243.1 440.7L240.4 439.5L237.7 438.2L235.0 436.8L232.4 435.4L229.7 434.0L227.1 432.5L224.5 430.9L221.9 429.3L219.3 427.7L216.7 426.0L214.2 424.3L211.6 422.6L209.1 420.9L206.6 419.1L204.1 417.3L201.6 415.5L199.1 413.6L196.6 411.8L194.1 410.0L191.6 408.1L189.2 406.2L186.7 404.4L184.3 402.6L181.8 400.7L179.4 398.9L176.9 397.1L174.5 395.3L172.1 393.5L169.6 391.8L167.2 390.1L164.8 388.4L162.3 386.7L159.9 385.1L157.4 383.5L155.0 382.0" stroke="#00ffff"/>
<path d="M151.4 395.8L152.5 393.0L153.8 390.4L155.3 387.8L157.1 385.4L159.0 383.2L161.1 381.0L163.3 379.0L165.7 377.2L168.1 375.5L170.7 374.0L173.3 372.6L175.9 371.3L178.6 370.2L181.4 369.2L184.2 368.3L187.1 367.6L190.0 366.9L192.9 366.3L195.9 365.8L198.9 365.3L201.9 365.0L204.9 364.6L208.0 364.3L211.1 364.0L214.1 363.8L217.2 363.5L220.3 363.3L223.4 363.0L226.5 362.7L229.5 362.4L232.6 362.1L235.6 361.7L238.7 361.2L241.7 360.8L244.7 360.2L247.7 359.7L250.6 359.1L253.6 358.5L256.6 357.8L259.5 357.2L262.4 356.4L265.3 355.7L268.2 354.9L271.1 354.1L274.0 353.3L276.9 352.4L279.8 351.6L282.7 350.7L285.5 349.8L288.4 348.8L291.2 347.9L294.1 346.9L296.9 345.9L299.7 344.9L302.6 343.9L305.4 342.9L308.2 341.8L311.0 340.8L313.8 339.7L316.6 338.7L319.4 337.6L322.2 336.5L325.0 335.5L327.8 334.4L330.6 333.3L333.4 332.2L336.2 331.1L339.1 330.0L341.9 329.0L344.7 327.9L347.5 326.8L350.3 325.8L353.1 324.7L355.9 323.7L358.7 322.7L361.6 321.7L364.4 320.7L367.2 319.7L370.1 318.7L372.9 317.7L375.8 316.8L378.6 315.9L381.5 315.0L384.4 314.1L387.2 313.3L390.1 312.5L393.0 311.7L395.9 310.9L398.9 310.1L401.8 309.4L404.7 308.7L407.7 308.1L410.6 307.5L413.6 306.8L416.6 306.3L419.6 305.7L422.5 305.1L425.5 304.6L428.5 304.1L431.5 303.6L434.5 303.0L437.5 302.6L440.5 302.1L443.5 301.6L446.5 301.1L449.5 300.6L452.5 300.1L455.5 299.6L458.5 299.1L461.5 298.6L464.5 298.1L467.5 297.6L470.5 297.0L473.5 296.5L476.4 295.9L479.4 295.3L482.4 294.7L485.3 294.1L488.2 293.4L491.2 292.7L494.1 292.0L497.0 291.3L499.9 290.5L502.7 289.7L505.6 288.8L508.5 287.9L511.3 287.0L514.1 286.0L516.9 285.0L519.7 284.0L522.5 282.9L525.3 281.8L528.0 280.6L530.7 279.4L533.5 278.2L536.2 277.0L538.9 275.7L541.6 274.4L544.3 273.1L547.0 271.7L549.6 270.4L552.3 269.0L555.0 267.6L557.6 266.2L560.2 264.7L562.9 263.3L565.5 261.8L568.1 260.3L570.8 258.8L573.4 257.3L576.0 255.8L578.6 254.3L581.2 252.8L583.8 251.3L586.4 249.7L589.1 248.2L591.7 246.7L594.3 245.2L596.9 243.6L599.5 242.1L602.1 240.6L604.7 239.1L607.4 237.6L610.0 236.1L612.6 234.7L615.2 233.2L617.9 231.8L620.5 230.4L623.2 229.0L625.8 227.6L628.5 226.3L631.2 225.0L633.9 223.7L636.6 222.5L639.3 221.3L642.0 220.1L644.8 219.0L647.6 217.9L650.3 216.9L653.1 215.9L655.9 215.0L658.8 214.2L661.6 213.4L664.5 212.6L667.4 212.0L670.3 211.4L673.2 210.8L676.2 210.4L679.2 210.0L682.2 209.7L685.2 209.5L688.3 209.3L691.4 209.2L694.5 209.1L697.6 209.1L700.7 209.1L703.8 209.2L706.9 209.2L710.0 209.3L713.1 209.4L716.2 209.5L719.3 209.5L722.3 209.6L725.4 209.6L728.4 209.6L731.4 209.6L734.4 209.5L737.4 209.3L740.3 209.1L743.2 208.9L746.0 208.5L744.6 211.2L743.2 213.8L741.8 216.5L740.4 219.1L738.9 221.7L737.4 224.3L735.9 226.9L734.4 229.5L732.8 232.1L731.2 234.6L729.6 237.1L728.0 239.7L726.3 242.2L724.6 244.6L722.9 247.1L721.2 249.6L719.5 252.0L717.7 254.4L715.9 256.8L714.1 259.2L712.2 261.6L710.4 263.9L708.5 266.3L706.6 268.6L704.7 270.9L702.8 273.2L700.8 275.5L698.8 277.8L696.8 280.0L694.8 282.2L692.8 284.4L690.7 286.6L688.7 288.8L686.6 291.0L684.5 293.1L682.3 295.3L680.2 297.4L678.0 299.5L675.9 301.6L673.7 303.6L671.5 305.7L669.2 307.7L667.0 309.7L664.7 311.7L662.5 313.7L660.2 315.6L657.9 317.6L655.6 319.5L653.2 321.4L650.9 323.3L648.5 325.2L646.1 327.1L643.7 328.9L641.3 330.7L638.9 332.5L636.5 334.3L634.1 336.1L631.6 337.9L629.1 339.6L626.6 341.3L624.2 343.0L621.6 344.7L619.1 346.4L616.6 348.0L614.1 349.6L611.5 351.2L609.0 352.8L606.4 354.4L603.8 356.0L601.2 357.5L598.6 359.0L596.0 360.5L593.4 362.0L590.8 363.5L588.1 364.9L585.5 366.4L582.8 367.8L580.2 369.2L577.5 370.6L574.8 372.0L572.2 373.4L569.5 374.8L566.8 376.1L564.1 377.5L561.4 378.8L558.7 380.1L555.9 381.4L553.2 382.7L550.5 384.0L547.8 385.3L545.0 386.5L542.3 387.8L539.5 389.0L536.8 390.3L534.0 391.5L531.3 392.8L528.5 394.0L525.7 395.2L523.0 396.4L520.2 397.6L517.4 398.8L514.6 400.0L511.9 401.2L509.1 402.4L506.3 403.6L503.5 404.8L500.7 406.0L498.0 407.2L495.2 408.4L492.4 409.5L489.6 410.7L486.8 411.9L484.0 413.1L481.3 414.3L478.5 415.4L475.7 416.6L472.9 417.8L470.2 419.0L467.4 420.2L464.6 421.4L461.8 422.5L459.1 423.7L456.3 424.9L453.5 426.1L450.7 427.2L448.0 428.4L445.2 429.5L442.4 430.7L439.6 431.8L436.8 432.9L434.0 434.0L431.2 435.0L428.4 436.1L425.6 437.1L422.8 438.1L420.0 439.1L417.2 440.1L414.3 441.0L411.5 441.9L408.6 442.8L405.8 443.6L402.9 444.4L400.0 445.2L397.2 446.0L394.3 446.7L391.4 447.4L388.4 448.0L385.5 448.6L382.6 449.2L379.6 449.7L376.7 450.2L373.7 450.7L370.7 451.2L367.8 451.7L364.8 452.1L361.8 452.6L358.9 453.2L355.9 453.7L353.0 454.3L350.0 454.9L347.1 455.5L344.1 456.2L341.2 456.9L338.3 457.7L335.4 458.5L332.5 459.4L329.6 460.3L326.7 461.2L323.8 462.1L320.9 463.1L318.0 464.0L315.2 465.0L312.3 465.9L309.4 466.9L306.5 467.8L303.6 468.7L300.7 469.6L297.7 470.4L294.8 471.2L291.9 472.0L288.9 472.7L286.0 473.4L283.0 474.0L280.1 474.5L277.1 475.1L274.1 475.5L271.2 475.9L268.2 476.2L265.2 476.5L262.3 476.7L259.3 476.8L256.3 476.9L253.4 476.8L250.5 476.7L247.5 476.5L244.6 476.2L241.7 475.8L238.8 475.4L235.9 474.8L233.0 474.1L230.2 473.4L227.3 472.5L224.5 471.5L221.7 470.5L218.9 469.4L216.2 468.2L213.4 466.9L210.7 465.5L208.1 464.0L205.4 462.5L202.8 460.9L200.2 459.2L197.7 457.5L195.2 455.7L192.7 453.9L190.3 451.9L187.9 450.0L185.5 448.0L183.2 445.9L181.0 443.8L178.7 441.6L176.6 439.4L174.5 437.2L172.4 434.9L170.4 432.6L168.5 430.3L166.6 427.9L164.7 425.5L163.0 423.1L161.3 420.7L159.6 418.2L158.0 415.7L156.5 413.3L155.1 410.8L153.7 408.3L152.4 405.8" stroke="#ff00ff"/>
<path d="M152.7 443.2L153.4 440.3L154.2 437.4L155.2 434.5L156.2 431.6L157.2 428.8L158.4 426.0L159.6 423.2L161.0 420.4L162.4 417.7L163.9 415.1L165.4 412.5L167.1 409.9L168.8 407.4L170.5 405.0L172.4 402.6L174.3 400.3L176.3 398.1L178.3 395.9L180.4 393.8L182.6 391.7L184.8 389.8L187.1 387.8L189.4 386.0L191.8 384.1L194.2 382.4L196.7 380.7L199.2 379.0L201.7 377.4L204.3 375.9L206.9 374.4L209.5 373.0L212.2 371.6L214.8 370.3L217.5 369.0L220.3 367.8L223.0 366.6L225.8 365.4L228.6 364.3L231.4 363.3L234.2 362.2L237.0 361.2L239.9 360.3L242.8 359.3L245.6 358.4L248.5 357.5L251.4 356.6L254.3 355.8L257.2 355.0L260.2 354.1L263.1 353.3L266.0 352.5L268.9 351.7L271.9 350.9L274.8 350.2L277.7 349.4L280.7 348.6L283.6 347.8L286.5 347.0L289.5 346.2L292.4 345.4L295.3 344.5L298.2 343.7L301.1 342.8L304.0 341.9L306.9 341.0L309.8 340.1L312.6 339.1L315.5 338.2L318.4 337.2L321.2 336.2L324.0 335.2L326.9 334.2L329.7 333.2L332.6 332.2L335.4 331.2L338.2 330.2L341.1 329.2L343.9 328.2L346.7 327.2L349.5 326.2L352.4 325.3L355.2 324.3L358.0 323.3L360.9 322.4L363.7 321.4L366.6 320.5L369.4 319.6L372.3 318.7L375.1 317.9L378.0 317.0L380.9 316.2L383.8 315.4L386.7 314.7L389.6 313.9L392.5 313.3L395.4 312.6L398.3 312.0L401.3 311.4L404.2 310.8L407.2 310.3L410.2 309.8L413.2 309.3L416.1 308.9L419.1 308.4L422.1 308.0L425.2 307.7L428.2 307.3L431.2 306.9L434.2 306.6L437.2 306.3L440.3 305.9L443.3 305.6L446.3 305.3L449.4 305.0L452.4 304.6L455.4 304.3L458.4 304.0L461.5 303.6L464.5 303.3L467.5 302.9L470.5 302.5L473.5 302.1L476.5 301.6L479.5 301.2L482.4 300.7L485.4 300.1L488.4 299.6L491.3 299.0L494.2 298.4L497.2 297.7L500.1 297.0L503.0 296.2L505.8 295.4L508.7 294.6L511.5 293.7L514.4 292.7L517.2 291.7L520.0 290.7L522.8 289.6L525.5 288.4L528.3 287.2L531.0 285.9L533.7 284.7L536.4 283.3L539.1 281.9L541.7 280.5L544.4 279.1L547.0 277.6L549.6 276.1L552.2 274.5L554.8 272.9L557.3 271.3L559.9 269.6L562.4 267.9L564.9 266.2L567.4 264.4L569.9 262.6L572.4 260.8L574.8 259.0L577.3 257.2L579.7 255.3L582.1 253.4L584.4 251.5L586.8 249.6L589.2 247.6L591.5 245.6L593.8 243.7L596.1 241.7L598.5 239.8L600.8 237.8L603.1 235.9L605.5 234.0L607.8 232.2L610.2 230.4L612.7 228.7L615.1 227.0L617.6 225.4L620.2 223.9L622.7 222.5L625.3 221.1L628.0 219.7L630.6 218.5L633.3 217.3L636.0 216.1L638.8 215.0L641.6 214.0L644.4 213.0L647.2 212.1L650.0 211.3L652.9 210.5L655.8 209.7L658.7 209.0L661.6 208.4L664.6 207.8L667.5 207.2L670.5 206.7L673.5 206.3L676.5 205.9L679.5 205.5L682.5 205.2L685.5 204.9L688.5 204.7L691.6 204.5L694.6 204.3L697.7 204.2L700.7 204.1L703.8 204.1L706.8 204.0L709.9 204.1L712.9 204.1L716.0 204.2L719.0 204.3L722.0 204.4L725.1 204.6L728.1 204.8L731.1 205.0L734.1 205.3L737.1 205.6L740.1 205.9L743.0 206.2L746.0 206.5L744.7 209.2L743.4 212.0L742.1 214.7L740.8 217.4L739.4 220.1L738.0 222.8L736.6 225.4L735.2 228.1L733.7 230.7L732.3 233.4L730.8 236.0L729.3 238.6L727.7 241.2L726.2 243.8L724.6 246.4L723.0 248.9L721.4 251.5L719.8 254.0L718.1 256.5L716.4 259.0L714.7 261.5L713.0 264.0L711.3 266.5L709.5 268.9L707.8 271.4L706.0 273.8L704.2 276.2L702.3 278.6L700.5 281.0L698.6 283.4L696.7 285.7L694.8 288.1L692.9 290.4L691.0 292.7L689.0 295.0L687.1 297.3L685.1 299.5L683.1 301.8L681.0 304.0L679.0 306.2L677.0 308.4L674.9 310.6L672.8 312.8L670.7 315.0L668.6 317.1L666.4 319.2L664.3 321.3L662.1 323.4L659.9 325.5L657.7 327.5L655.5 329.6L653.2 331.6L651.0 333.6L648.7 335.6L646.5 337.6L644.2 339.5L641.9 341.5L639.5 343.4L637.2 345.3L634.8 347.2L632.5 349.0L630.1 350.9L627.7 352.7L625.3 354.5L622.9 356.3L620.4 358.1L618.0 359.8L615.5 361.6L613.1 363.3L610.6 365.0L608.1 366.7L605.6 368.3L603.0 370.0L600.5 371.6L597.9 373.2L595.4 374.8L592.8 376.3L590.2 377.9L587.6 379.4L585.0 380.9L582.4 382.4L579.8 383.9L577.2 385.4L574.5 386.8L571.9 388.3L569.2 389.7L566.5 391.1L563.8 392.5L561.1 393.8L558.4 395.2L555.7 396.5L553.0 397.9L550.3 399.2L547.6 400.5L544.8 401.7L542.1 403.0L539.4 404.3L536.6 405.5L533.8 406.7L531.1 408.0L528.3 409.2L525.5 410.3L522.7 411.5L519.9 412.7L517.1 413.8L514.4 415.0L511.5 416.1L508.7 417.2L505.9 418.3L503.1 419.4L500.3 420.5L497.5 421.6L494.7 422.7L491.8 423.7L489.0 424.8L486.2 425.8L483.3 426.9L480.5 427.9L477.7 428.9L474.8 430.0L472.0 431.0L469.2 432.0L466.3 433.1L463.5 434.1L460.7 435.1L457.8 436.1L455.0 437.2L452.2 438.2L449.4 439.3L446.5 440.3L443.7 441.4L440.9 442.5L438.1 443.5L435.3 444.6L432.4 445.7L429.6 446.7L426.8 447.7L424.0 448.7L421.1 449.7L418.3 450.7L415.4 451.6L412.6 452.5L409.7 453.3L406.8 454.1L404.0 454.8L401.1 455.5L398.2 456.2L395.3 456.8L392.3 457.4L389.4 458.0L386.5 458.6L383.6 459.1L380.6 459.6L377.7 460.1L374.7 460.5L371.8 461.0L368.8 461.4L365.8 461.8L362.9 462.3L359.9 462.7L356.9 463.1L354.0 463.6L351.0 464.0L348.0 464.5L345.0 464.9L342.1 465.4L339.1 465.9L336.1 466.4L333.1 467.0L330.2 467.6L327.2 468.2L324.2 468.8L321.3 469.5L318.3 470.2L315.4 471.0L312.4 471.8L309.4 472.6L306.5 473.4L303.6 474.3L300.6 475.2L297.7 476.0L294.7 476.9L291.8 477.8L288.8 478.6L285.9 479.5L283.0 480.3L280.0 481.1L277.1 481.9L274.1 482.6L271.2 483.3L268.3 484.0L265.3 484.6L262.4 485.2L259.4 485.7L256.5 486.1L253.5 486.5L250.6 486.8L247.6 487.0L244.6 487.1L241.7 487.2L238.7 487.1L235.8 487.0L232.8 486.8L229.9 486.6L227.0 486.2L224.0 485.8L221.1 485.2L218.2 484.6L215.4 483.9L212.5 483.2L209.7 482.3L206.9 481.3L204.1 480.3L201.3 479.1L198.6 477.9L195.9 476.6L193.2 475.2L190.5 473.7L187.9 472.2L185.3 470.5L182.8 468.9L180.2 467.1L177.7 465.3L175.3 463.5L172.9 461.6L170.5 459.6L168.1 457.7L165.8 455.6L163.5 453.6L161.3 451.6L159.1 449.5L156.9 447.4L154.8 445.3L152.7 443.2" stroke="#000080"/>
</g>
<g fill="none" stroke-width="6.0" stroke-linecap="round" stroke-linejoin="round">
<path d="M935.1 416.5L936.1 413.7L937.1 410.9L938.2 408.0L939.2 405.2L940.2 402.4L941.3 399.6L942.4 396.7L943.4 393.9L944.5 391.1L945.6 388.2L946.7 385.4L947.8 382.6L949.0 379.8L950.2 377.0L951.4 374.2L952.6 371.4L953.8 368.7L955.1 365.9L956.4 363.2L957.7 360.4L959.1 357.8L960.4 355.1L961.9 352.4L963.3 349.8L964.8 347.2L966.3 344.6L967.9 342.0L969.5 339.5L971.2 337.0L972.9 334.5L974.6 332.1L976.4 329.7L978.3 327.3L980.2 325.0L982.1 322.7L984.1 320.4L986.2 318.2L988.3 316.0L990.4 313.9L992.6 311.8L994.9 309.7L997.2 307.7L999.5 305.8L1001.9 303.9L1004.3 302.0L1006.7 300.2L1009.2 298.5L1011.7 296.8L1014.3 295.2L1016.9 293.6L1019.5 292.1L1022.1 290.6L1024.8 289.2L1027.5 287.8L1030.2 286.5L1032.9 285.2L1035.6 284.0L1038.4 282.8L1041.2 281.6L1043.9 280.4L1046.7 279.3L1049.5 278.1L1052.3 277.0L1055.1 275.9L1057.9 274.7L1060.6 273.6L1063.4 272.4L1066.2 271.2L1069.0 270.0L1071.7 268.8L1074.5 267.6L1077.3 266.4L1080.0 265.2L1082.8 264.0L1085.6 262.7L1088.3 261.5L1091.1 260.3L1093.9 259.1L1096.6 257.8L1099.4 256.6L1102.2 255.4L1105.0 254.2L1107.7 253.0L1110.5 251.8L1113.3 250.7L1116.1 249.5L1118.9 248.4L1121.7 247.2L1124.5 246.1L1127.3 245.0L1130.1 244.0L1133.0 242.9L1135.8 241.9L1138.7 240.9L1141.5 239.9L1144.4 239.0L1147.2 238.0L1150.1 237.2L1153.0 236.3L1155.9 235.4L1158.8 234.6L1161.7 233.8L1164.7 233.1L1167.6 232.3L1170.5 231.6L1173.5 230.9L1176.4 230.2L1179.4 229.5L1182.3 228.9L1185.3 228.2L1188.2 227.6L1191.2 226.9L1194.1 226.3L1197.1 225.7L1200.1 225.1L1203.0 224.5L1206.0 223.9L1209.0 223.3L1211.9 222.8L1214.9 222.2L1217.8 221.6L1220.8 221.0L1223.8 220.4L1226.7 219.8L1229.6 219.2L1232.6 218.6L1235.5 218.0L1238.4 217.4L1241.4 216.8L1244.3 216.1L1247.2 215.5L1250.1 214.8L1253.0 214.1L1255.9 213.4L1258.8 212.6L1261.7 211.8L1264.6 211.0L1267.5 210.2L1270.4 209.3L1273.3 208.5L1276.2 207.5L1279.1 206.6L1282.0 205.6L1284.9 204.5L1287.8 203.4L1290.6 202.3L1293.5 201.1L1296.3 199.9L1299.1 198.6L1301.8 197.2L1304.5 195.8L1307.2 194.4L1309.8 192.8L1312.3 191.2L1314.8 189.6L1317.3 187.9L1319.7 186.1L1322.0 184.3L1324.4 182.4L1326.7 180.5L1328.9 178.6L1331.1 176.6L1333.3 174.5L1335.5 172.4L1337.6 170.3L1339.7 168.2L1341.7 166.0L1343.8 163.8L1345.8 161.5L1347.8 159.3L1349.7 157.0L1351.7 154.7L1353.6 152.4L1355.6 150.0L1357.5 147.7L1359.4 145.3L1361.3 142.9L1363.2 140.5L1365.1 138.1L1366.9 135.7L1368.8 133.4L1370.7 131.0L1372.6 128.6L1374.5 126.2L1376.3 123.8L1378.2 121.5L1380.1 119.1L1382.1 116.8L1384.0 114.5L1385.9 112.2L1387.9 109.9L1389.8 107.6L1391.8 105.4L1393.8 103.1L1395.8 100.9L1397.8 98.7L1399.8 96.5L1401.9 94.3L1403.9 92.1L1406.0 89.9L1408.1 87.8L1410.2 85.6L1412.3 83.5L1414.5 81.4L1416.6 79.3L1418.8 77.2L1421.0 75.1L1423.2 73.0L1425.4 71.0L1427.6 68.9L1429.9 66.9L1432.2 64.8L1434.5 62.8L1436.8 60.8L1439.2 58.9L1441.6 57.0L1444.0 55.1L1446.5 53.4L1449.0 51.7L1451.6 50.1L1454.2 48.6L1456.8 47.2L1459.5 45.9L1462.3 44.8L1465.1 43.7L1468.0 42.8L1470.8 42.0L1473.7 41.3L1476.7 40.7L1479.6 40.3L1482.6 40.0L1485.6 39.8L1488.6 39.7L1491.5 39.7L1494.5 39.9L1497.5 40.2L1500.5 40.6L1503.5 41.2L1506.5 41.9L1509.4 42.7L1512.4 43.5L1515.3 44.5L1518.2 45.4L1521.1 46.4L1524.0 47.3L1526.9 48.3L1529.7 49.1L1532.6 49.9L1532.2 54.0L1531.6 57.0L1530.9 59.9L1530.2 62.8L1529.4 65.7L1528.6 68.6L1527.7 71.5L1526.8 74.3L1525.8 77.2L1524.8 80.0L1523.8 82.8L1522.7 85.6L1521.7 88.4L1520.6 91.2L1519.5 94.0L1518.4 96.8L1517.2 99.6L1516.1 102.4L1515.0 105.2L1513.9 108.0L1512.8 110.8L1511.6 113.6L1510.5 116.4L1509.4 119.2L1508.3 122.0L1507.2 124.8L1506.0 127.6L1504.9 130.4L1503.8 133.2L1502.6 136.0L1501.5 138.8L1500.3 141.6L1499.2 144.4L1498.0 147.2L1496.8 150.0L1495.6 152.7L1494.4 155.5L1493.2 158.3L1491.9 161.0L1490.7 163.8L1489.4 166.5L1488.1 169.3L1486.8 172.0L1485.5 174.7L1484.2 177.4L1482.8 180.1L1481.4 182.7L1480.1 185.4L1478.6 188.1L1477.2 190.7L1475.8 193.3L1474.3 196.0L1472.8 198.6L1471.3 201.2L1469.8 203.7L1468.2 206.3L1466.7 208.9L1465.1 211.4L1463.5 214.0L1461.9 216.5L1460.3 219.0L1458.6 221.5L1457.0 224.0L1455.3 226.5L1453.6 229.0L1451.9 231.5L1450.1 233.9L1448.4 236.4L1446.6 238.8L1444.9 241.3L1443.1 243.7L1441.3 246.1L1439.5 248.5L1437.6 250.9L1435.8 253.2L1433.9 255.6L1432.1 258.0L1430.2 260.3L1428.3 262.6L1426.4 265.0L1424.4 267.3L1422.5 269.6L1420.5 271.9L1418.6 274.2L1416.6 276.5L1414.6 278.7L1412.6 281.0L1410.6 283.2L1408.5 285.5L1406.5 287.7L1404.4 289.9L1402.4 292.1L1400.3 294.3L1398.2 296.5L1396.1 298.7L1394.0 300.9L1391.9 303.1L1389.7 305.2L1387.6 307.3L1385.4 309.5L1383.3 311.6L1381.1 313.7L1378.9 315.8L1376.7 317.8L1374.4 319.9L1372.2 321.9L1369.9 323.9L1367.6 325.9L1365.4 327.8L1363.0 329.8L1360.7 331.7L1358.4 333.6L1356.0 335.4L1353.6 337.3L1351.2 339.1L1348.8 340.9L1346.4 342.6L1343.9 344.3L1341.5 346.0L1339.0 347.7L1336.5 349.3L1333.9 350.9L1331.4 352.5L1328.8 354.0L1326.2 355.5L1323.6 357.0L1321.0 358.4L1318.3 359.8L1315.6 361.1L1312.9 362.4L1310.2 363.7L1307.5 365.0L1304.7 366.2L1302.0 367.4L1299.2 368.6L1296.4 369.8L1293.6 370.9L1290.8 372.1L1288.0 373.2L1285.2 374.4L1282.4 375.5L1279.6 376.7L1276.8 377.8L1274.0 379.0L1271.2 380.1L1268.4 381.3L1265.7 382.5L1262.9 383.8L1260.1 385.0L1257.4 386.3L1254.7 387.6L1252.0 388.9L1249.3 390.3L1246.6 391.7L1244.0 393.2L1241.4 394.7L1238.8 396.2L1236.2 397.7L1233.6 399.3L1231.0 400.9L1228.5 402.4L1225.9 404.0L1223.3 405.5L1220.7 407.1L1218.1 408.6L1215.5 410.0L1212.9 411.5L1210.2 412.8L1207.6 414.1L1204.9 415.4L1202.1 416.6L1199.4 417.7L1196.6 418.7L1193.7 419.7L1190.9 420.7L1188.0 421.5L1185.1 422.3L1182.2 423.1L1179.3 423.8L1176.3 424.4L1173.3 425.0L1170.4 425.5L1167.4 426.1L1164.4 426.7L1161.4 427.3L1158.5 428.0L1155.5 428.7L1152.6 429.4L1149.7 430.1L1146.8 430.8L1143.8 431.4L1140.9 432.0L1138.0 432.5L1135.1 432.9L1132.1 433.3L1129.2 433.5L1126.2 433.6L1123.3 433.5L1120.3 433.3L1117.3 432.9L1114.4 432.3L1111.4 431.7L1108.4 431.0L1105.4 430.4L1102.4 429.8L1099.5 429.4L1096.5 429.2L1093.6 429.2L1090.7 429.4L1087.9 429.8L1085.0 430.3L1082.2 431.0L1079.4 431.9L1076.5 432.9L1073.7 433.9L1070.9 435.1L1068.1 436.3L1065.3 437.6L1062.6 438.9L1059.7 440.2L1056.9 441.5L1054.1 442.8L1051.3 444.0L1048.5 445.2L1045.6 446.4L1042.7 447.6L1039.9 448.6L1037.0 449.6L1034.1 450.6L1031.2 451.5L1028.3 452.3L1025.4 453.0L1022.5 453.7L1019.6 454.3L1016.6 454.7L1013.7 455.1L1010.8 455.4L1007.8 455.5L1004.9 455.6L1001.9 455.5L999.0 455.3L996.0 455.0L993.0 454.5L990.1 454.0L987.2 453.3L984.3 452.5L981.4 451.7L978.5 450.7L975.7 449.6L972.8 448.5L970.1 447.2L967.3 445.8L964.6 444.4L962.0 442.8L959.4 441.2L956.9 439.5L954.4 437.8L952.0 435.9L949.6 434.0L947.3 432.0L945.1 429.9L943.0 427.8L940.9 425.6L939.0 423.4L937.1 421.1L935.3 418.7" stroke="#000"/>
<path d="M935.3 417.3L936.3 414.5L937.3 411.7L938.4 408.8L939.4 406.0L940.4 403.2L941.5 400.4L942.6 397.5L943.6 394.7L944.7 391.9L945.8 389.0L946.9 386.2L948.0 383.4L949.2 380.6L950.4 377.8L951.6 375.0L952.8 372.2L954.0 369.5L955.3 366.7L956.6 364.0L957.9 361.2L959.3 358.6L960.6 355.9L962.1 353.2L963.5 350.6L965.0 348.0L966.5 345.4L968.1 342.8L969.7 340.3L971.4 337.8L973.1 335.3L974.8 332.9L976.6 330.5L978.5 328.1L980.4 325.8L982.3 323.5L984.3 321.2L986.4 319.0L988.5 316.8L990.6 314.7L992.8 312.6L995.1 310.5L997.4 308.5L999.7 306.6L1002.1 304.7L1004.5 302.8L1006.9 301.0L1009.4 299.3L1011.9 297.6L1014.5 296.0L1017.1 294.4L1019.7 292.9L1022.3 291.4L1025.0 290.0L1027.7 288.6L1030.4 287.3L1033.1 286.0L1035.8 284.8L1038.6 283.6L1041.4 282.4L1044.1 281.2L1046.9 280.1L1049.7 278.9L1052.5 277.8L1055.3 276.7L1058.1 275.5L1060.8 274.4L1063.6 273.2L1066.4 272.0L1069.2 270.8L1071.9 269.6L1074.7 268.4L1077.5 267.2L1080.2 266.0L1083.0 264.8L1085.8 263.5L1088.5 262.3L1091.3 261.1L1094.1 259.9L1096.8 258.6L1099.6 257.4L1102.4 256.2L1105.2 255.0L1107.9 253.8L1110.7 252.6L1113.5 251.5L1116.3 250.3L1119.1 249.2L1121.9 248.0L1124.7 246.9L1127.5 245.8L1130.3 244.8L1133.2 243.7L1136.0 242.7L1138.9 241.7L1141.7 240.7L1144.6 239.8L1147.4 238.8L1150.3 238.0L1153.2 237.1L1156.1 236.2L1159.0 235.4L1161.9 234.6L1164.9 233.9L1167.8 233.1L1170.7 232.4L1173.7 231.7L1176.6 231.0L1179.6 230.3L1182.5 229.7L1185.5 229.0L1188.4 228.4L1191.4 227.7L1194.3 227.1L1197.3 226.5L1200.3 225.9L1203.2 225.3L1206.2 224.7L1209.2 224.1L1212.1 223.6L1215.1 223.0L1218.0 222.4L1221.0 221.8L1224.0 221.2L1226.9 220.6L1229.8 220.0L1232.8 219.4L1235.7 218.8L1238.6 218.2L1241.6 217.6L1244.5 216.9L1247.4 216.3L1250.3 215.6L1253.2 214.9L1256.1 214.2L1259.0 213.4L1261.9 212.6L1264.8 211.8L1267.7 211.0L1270.6 210.1L1273.5 209.3L1276.4 208.3L1279.3 207.4L1282.2 206.4L1285.1 205.3L1288.0 204.2L1290.8 203.1L1293.7 201.9L1296.5 200.7L1299.3 199.4L1302.0 198.0L1304.7 196.6L1307.4 195.2L1310.0 193.6L1312.5 192.0L1315.0 190.4L1317.5 188.7L1319.9 186.9L1322.2 185.1L1324.6 183.2L1326.9 181.3L1329.1 179.4L1331.3 177.4L1333.5 175.3L1335.7 173.2L1337.8 171.1L1339.9 169.0L1341.9 166.8L1344.0 164.6L1346.0 162.3L1348.0 160.1L1349.9 157.8L1351.9 155.5L1353.8 153.2L1355.8 150.8L1357.7 148.5L1359.6 146.1L1361.5 143.7L1363.4 141.3L1365.3 138.9L1367.1 136.5L1369.0 134.2L1370.9 131.8L1372.8 129.4L1374.7 127.0L1376.5 124.6L1378.4 122.3L1380.3 119.9L1382.3 117.6L1384.2 115.3L1386.1 113.0L1388.1 110.7L1390.0 108.4L1392.0 106.2L1394.0 103.9L1396.0 101.7L1398.0 99.5L1400.0 97.3L1402.1 95.1L1404.1 92.9L1406.2 90.7L1408.3 88.6L1410.4 86.4L1412.5 84.3L1414.7 82.2L1416.8 80.1L1419.0 78.0L1421.2 75.9L1423.4 73.8L1425.6 71.8L1427.8 69.7L1430.1 67.7L1432.4 65.6L1434.7 63.6L1437.0 61.6L1439.4 59.7L1441.8 57.8L1444.2 55.9L1446.7 54.2L1449.2 52.5L1451.8 50.9L1454.4 49.4L1457.0 48.0L1459.7 46.7L1462.5 45.6L1465.3 44.5L1468.2 43.6L1471.0 42.8L1473.9 42.1L1476.9 41.5L1479.8 41.1L1482.8 40.8L1485.8 40.6L1488.8 40.5L1491.7 40.5L1494.7 40.7L1497.7 41.0L1500.7 41.4L1503.7 42.0L1506.7 42.7L1509.6 43.5L1512.6 44.3L1515.5 45.3L1518.4 46.2L1521.3 47.2L1524.2 48.1L1527.1 49.1L1529.9 49.9L1532.8 50.7L1532.2 53.7L1531.6 56.7L1531.0 59.6L1530.2 62.5L1529.4 65.4L1528.6 68.3L1527.7 71.2L1526.8 74.0L1525.8 76.9L1524.8 79.7L1523.8 82.5L1522.8 85.3L1521.7 88.1L1520.6 90.9L1519.5 93.7L1518.4 96.5L1517.3 99.2L1516.1 102.0L1515.0 104.8L1513.9 107.6L1512.8 110.4L1511.7 113.2L1510.5 116.0L1509.4 118.8L1508.3 121.6L1507.2 124.4L1506.1 127.3L1504.9 130.1L1503.8 132.9L1502.7 135.7L1501.5 138.5L1500.3 141.3L1499.2 144.0L1498.0 146.8L1496.8 149.6L1495.6 152.4L1494.4 155.2L1493.2 157.9L1492.0 160.7L1490.7 163.4L1489.4 166.2L1488.2 168.9L1486.9 171.6L1485.5 174.3L1484.2 177.0L1482.9 179.7L1481.5 182.4L1480.1 185.0L1478.7 187.7L1477.2 190.3L1475.8 193.0L1474.3 195.6L1472.8 198.2L1471.3 200.8L1469.8 203.4L1468.3 206.0L1466.7 208.5L1465.1 211.1L1463.5 213.6L1461.9 216.1L1460.3 218.7L1458.7 221.2L1457.0 223.7L1455.3 226.2L1453.6 228.6L1451.9 231.1L1450.2 233.6L1448.5 236.0L1446.7 238.4L1444.9 240.9L1443.2 243.3L1441.4 245.7L1439.5 248.1L1437.7 250.5L1435.9 252.8L1434.0 255.2L1432.1 257.6L1430.2 259.9L1428.3 262.3L1426.4 264.6L1424.5 266.9L1422.6 269.2L1420.6 271.5L1418.6 273.8L1416.7 276.1L1414.7 278.3L1412.7 280.6L1410.6 282.8L1408.6 285.1L1406.6 287.3L1404.5 289.5L1402.5 291.7L1400.4 293.9L1398.3 296.1L1396.2 298.3L1394.1 300.5L1392.0 302.7L1389.8 304.8L1387.7 306.9L1385.5 309.1L1383.4 311.2L1381.2 313.3L1379.0 315.3L1376.8 317.4L1374.5 319.4L1372.3 321.5L1370.0 323.5L1367.8 325.4L1365.5 327.4L1363.2 329.3L1360.8 331.3L1358.5 333.1L1356.1 335.0L1353.8 336.9L1351.4 338.7L1349.0 340.4L1346.5 342.2L1344.1 343.9L1341.6 345.6L1339.1 347.3L1336.6 348.9L1334.1 350.5L1331.6 352.1L1329.0 353.6L1326.4 355.1L1323.8 356.6L1321.1 358.0L1318.5 359.4L1315.8 360.7L1313.1 362.1L1310.4 363.3L1307.7 364.6L1304.9 365.8L1302.2 367.0L1299.4 368.2L1296.6 369.4L1293.8 370.6L1291.0 371.7L1288.2 372.9L1285.4 374.0L1282.6 375.1L1279.8 376.3L1277.0 377.4L1274.2 378.6L1271.4 379.8L1268.6 380.9L1265.8 382.1L1263.1 383.3L1260.3 384.6L1257.6 385.9L1254.9 387.1L1252.1 388.5L1249.5 389.8L1246.8 391.2L1244.1 392.7L1241.5 394.1L1238.9 395.6L1236.3 397.2L1233.7 398.7L1231.1 400.2L1228.5 401.8L1226.0 403.3L1223.4 404.9L1220.8 406.4L1218.2 407.8L1215.5 409.3L1212.9 410.7L1210.2 412.0L1207.6 413.3L1204.8 414.5L1202.1 415.7L1199.3 416.8L1196.5 417.8L1193.7 418.8L1190.8 419.7L1188.0 420.5L1185.1 421.3L1182.1 422.0L1179.2 422.7L1176.2 423.3L1173.3 423.8L1170.3 424.4L1167.3 424.9L1164.3 425.5L1161.4 426.1L1158.4 426.7L1155.4 427.4L1152.5 428.0L1149.6 428.7L1146.6 429.4L1143.7 430.0L1140.8 430.6L1137.9 431.1L1135.0 431.5L1132.0 431.9L1129.1 432.1L1126.1 432.2L1123.2 432.1L1120.2 431.9L1117.3 431.5L1114.3 430.9L1111.3 430.3L1108.3 429.6L1105.3 429.0L1102.3 428.4L1099.4 428.0L1096.4 427.8L1093.5 427.8L1090.6 428.0L1087.8 428.4L1084.9 428.9L1082.1 429.7L1079.3 430.5L1076.5 431.5L1073.7 432.5L1070.9 433.7L1068.1 434.9L1065.3 436.2L1062.5 437.5L1059.7 438.8L1056.9 440.1L1054.1 441.4L1051.2 442.7L1048.4 443.9L1045.5 445.1L1042.7 446.2L1039.8 447.3L1036.9 448.3L1034.1 449.2L1031.2 450.1L1028.3 450.9L1025.4 451.7L1022.4 452.3L1019.5 452.9L1016.6 453.3L1013.7 453.7L1010.7 454.0L1007.8 454.1L1004.8 454.1L1001.9 454.1L998.9 453.9L996.0 453.5L993.0 453.1L990.1 452.6L987.1 451.9L984.2 451.1L981.3 450.3L978.5 449.3L975.6 448.2L972.8 447.0L970.1 445.8L967.3 444.4L964.6 443.0L962.0 441.4L959.4 439.8L956.9 438.1L954.4 436.3L952.0 434.5L949.6 432.6L947.3 430.6L945.1 428.5L943.0 426.4L940.9 424.2L939.0 422.0L937.1 419.7L935.3 417.3" stroke="#ff0000"/>
</g>
<rect x="118.3" y="6.6" width="660.8" height="501.4" fill="none" stroke="#000" stroke-width="5.8" stroke-linejoin="round"/>
<rect x="901.0" y="7.0" width="666.8" height="501.0" fill="none" stroke="#000" stroke-width="5.8" stroke-linejoin="round"/>
<path d="M151.3 508.0V495.2M283.5 508.0V495.2M415.7 508.0V495.2M547.8 508.0V495.2M680.0 508.0V495.2M217.4 508.0V501.0M349.6 508.0V501.0M481.7 508.0V501.0M613.9 508.0V501.0M746.1 508.0V501.0M118.3 51.4H131.1M118.3 112.4H131.1M118.3 173.3H131.1M118.3 234.2H131.1M118.3 295.2H131.1M118.3 356.1H131.1M118.3 417.0H131.1M118.3 478.0H131.1M118.3 21.0H125.3M118.3 81.9H125.3M118.3 142.8H125.3M118.3 203.8H125.3M118.3 264.7H125.3M118.3 325.6H125.3M118.3 386.6H125.3M118.3 447.5H125.3" stroke="#000" stroke-width="5.5" stroke-linecap="round" fill="none"/>
<path d="M934.3 508.0V495.2M1067.6 508.0V495.2M1200.9 508.0V495.2M1334.2 508.0V495.2M1467.5 508.0V495.2M1001.0 508.0V501.0M1134.3 508.0V501.0M1267.6 508.0V501.0M1400.9 508.0V501.0M1534.2 508.0V501.0M901.0 52.2H913.8M901.0 128.2H913.8M901.0 204.2H913.8M901.0 280.2H913.8M901.0 356.2H913.8M901.0 432.2H913.8M901.0 14.2H908.0M901.0 90.2H908.0M901.0 166.2H908.0M901.0 242.2H908.0M901.0 318.2H908.0M901.0 394.2H908.0M901.0 470.2H908.0" stroke="#000" stroke-width="5.5" stroke-linecap="round" fill="none"/>
<g stroke-width="6.0" stroke-linecap="round">
<line x1="319.8" y1="81.2" x2="394.4" y2="81.2" stroke="#000000"/>
<line x1="319.8" y1="118.3" x2="394.4" y2="118.3" stroke="#ff0000"/>
<line x1="319.8" y1="155.0" x2="394.4" y2="155.0" stroke="#00ff00"/>
<line x1="319.8" y1="191.8" x2="394.4" y2="191.8" stroke="#0000ff"/>
<line x1="592.8" y1="389.6" x2="667.3" y2="389.6" stroke="#00ffff"/>
<line x1="592.8" y1="426.8" x2="667.3" y2="426.8" stroke="#ff00ff"/>
<line x1="592.8" y1="463.9" x2="667.3" y2="463.9" stroke="#000080"/>
<line x1="1374.6" y1="397.2" x2="1448.5" y2="397.2" stroke="#ff0000"/>
<line x1="1374.6" y1="434.5" x2="1448.5" y2="434.5" stroke="#000000"/>
</g>
<g font-family="'Liberation Sans', Arial, sans-serif" font-weight="bold" fill="#000" stroke="#000" stroke-width="0.6">
<text x="107.3" y="61.2" font-size="37" text-anchor="end">300</text>
<text x="107.3" y="122.2" font-size="37" text-anchor="end">240</text>
<text x="107.3" y="183.1" font-size="37" text-anchor="end">180</text>
<text x="107.3" y="244.0" font-size="37" text-anchor="end">120</text>
<text x="107.3" y="305.0" font-size="37" text-anchor="end">60</text>
<text x="107.3" y="365.9" font-size="37" text-anchor="end">0</text>
<text x="107.3" y="426.8" font-size="37" text-anchor="end">-60</text>
<text x="107.3" y="487.8" font-size="37" text-anchor="end">-120</text>
<text x="152.1" y="550.3" font-size="37" text-anchor="middle">-0.4</text>
<text x="284.3" y="550.3" font-size="37" text-anchor="middle">-0.2</text>
<text x="416.5" y="550.3" font-size="37" text-anchor="middle">0.0</text>
<text x="548.6" y="550.3" font-size="37" text-anchor="middle">0.2</text>
<text x="680.8" y="550.3" font-size="37" text-anchor="middle">0.4</text>
<text x="890" y="62.0" font-size="37" text-anchor="end">150</text>
<text x="890" y="138.0" font-size="37" text-anchor="end">100</text>
<text x="890" y="214.0" font-size="37" text-anchor="end">50</text>
<text x="890" y="290.0" font-size="37" text-anchor="end">0</text>
<text x="890" y="366.0" font-size="37" text-anchor="end">-50</text>
<text x="890" y="442.0" font-size="37" text-anchor="end">-100</text>
<text x="890" y="518.0" font-size="37" text-anchor="end">-150</text>
<text x="934.9" y="550.3" font-size="37" text-anchor="middle">-0.4</text>
<text x="1068.2" y="550.3" font-size="37" text-anchor="middle">-0.2</text>
<text x="1201.5" y="550.3" font-size="37" text-anchor="middle">0.0</text>
<text x="1334.8" y="550.3" font-size="37" text-anchor="middle">0.2</text>
<text x="1468.1" y="550.3" font-size="37" text-anchor="middle">0.4</text>
<text transform="matrix(1.0049 0 0 0.9550 421.29 90.00)" font-size="30">1st</text>
<text transform="matrix(1.0280 0 0 0.8636 420.87 127.00)" font-size="30">2nd</text>
<text transform="matrix(1.0136 0 0 0.8909 421.29 164.60)" font-size="30">3rd</text>
<text transform="matrix(0.9977 0 0 0.8864 421.70 201.10)" font-size="30">4th</text>
<text transform="matrix(1.0071 0 0 0.8773 694.99 399.00)" font-size="30">6th</text>
<text transform="matrix(1.0052 0 0 0.8773 677.99 436.40)" font-size="30">10th</text>
<text transform="matrix(0.9847 0 0 0.8773 678.62 473.80)" font-size="30">20th</text>
<text transform="matrix(1.0136 0 0 0.9136 1468.19 407.50)" font-size="30">90th</text>
<text transform="matrix(1.0270 0 0 0.8909 1459.65 444.10)" font-size="30">100th</text>
<text transform="matrix(0.8273 0 0 0.9711 142.65 80.33)" font-size="82">a</text>
<text transform="matrix(0.9923 0 0 0.9860 926.04 89.20)" font-size="78">b</text>
<text transform="matrix(1.0732 0 0 0.9714 347.75 590.73)" font-size="37">E (V vs. SCE)</text>
<text transform="matrix(1.0789 0 0 0.9514 1109.24 590.49)" font-size="37">E (V vs. SCE)</text>
<text transform="translate(33.74 323.77) rotate(-90) scale(0.9553 0.9400)" font-size="42">I (mA)</text>
<text transform="translate(822.73 323.86) rotate(-90) scale(0.9544 0.9300)" font-size="42">I (mA)</text>
</g>
</svg></body></html>
